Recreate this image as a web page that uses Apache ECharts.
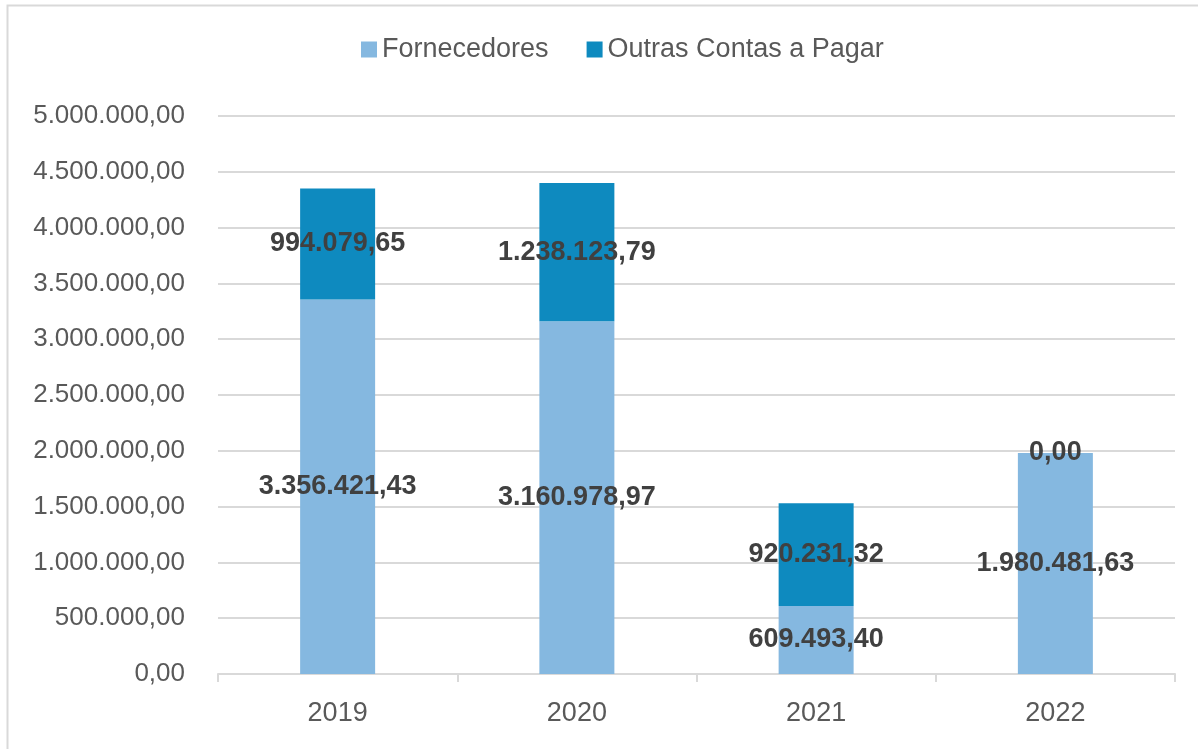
<!DOCTYPE html>
<html><head><meta charset="utf-8">
<script src="https://cdn.jsdelivr.net/npm/echarts@6/dist/echarts.min.js"></script>
<style>html,body{margin:0;padding:0;background:#fff}#c{width:1198px;height:749px}</style>
</head><body><div id="c"></div>
<script>
const categories = ['2019', '2020', '2021', '2022'];
const fornecedores = [3356421.43, 3160978.97, 609493.40, 1980481.63];
const outrasContas = [994079.65, 1238123.79, 920231.32, 0];
const seriesNames = ['Fornecedores', 'Outras Contas a Pagar'];

function fmt(v) {
  const parts = v.toFixed(2).split('.');
  parts[0] = parts[0].replace(/\B(?=(\d{3})+(?!\d))/g, '.');
  return parts[0] + ',' + parts[1];
}

const chart = echarts.init(document.getElementById('c'), null, {renderer: 'canvas'});
const labelStyle = {
  show: true, position: 'inside', color: '#404040', fontWeight: 'bold',
  fontSize: 27, fontFamily: 'Liberation Sans, Arial, sans-serif',
  formatter: p => fmt(p.value)
};
chart.setOption({
  animation: false,
  backgroundColor: '#fff',
  graphic: [{
    type: 'rect', shape: {x: 7.5, y: 5.5, width: 1300, height: 900},
    style: {fill: 'none', stroke: '#d9d9d9', lineWidth: 2}, silent: true
  }],
  legend: {
    top: 31, left: 356, itemWidth: 16, itemHeight: 16, itemGap: 38,
    icon: 'rect',
    textStyle: {fontSize: 27, color: '#595959', fontFamily: 'Liberation Sans, Arial, sans-serif'},
    data: seriesNames
  },
  grid: {left: 218, right: 23, top: 116, bottom: 75, containLabel: false},
  xAxis: {
    type: 'category', data: categories,
    axisLine: {lineStyle: {color: '#d9d9d9', width: 2}},
    axisTick: {show: true, length: 8, lineStyle: {color: '#d9d9d9', width: 2}},
    axisLabel: {fontSize: 27, color: '#595959', margin: 26, fontFamily: 'Liberation Sans, Arial, sans-serif'}
  },
  yAxis: {
    type: 'value', min: 0, max: 5000000, interval: 500000,
    axisLine: {show: false}, axisTick: {show: false},
    splitLine: {lineStyle: {color: '#d9d9d9', width: 2}},
    axisLabel: {fontSize: 26, color: '#595959', margin: 33, fontFamily: 'Liberation Sans, Arial, sans-serif',
      formatter: v => fmt(v)}
  },
  series: [
    {name: seriesNames[0], type: 'bar', stack: 's', data: fornecedores, barWidth: 75,
     itemStyle: {color: '#85B8E0'}, label: labelStyle},
    {name: seriesNames[1], type: 'bar', stack: 's', data: outrasContas, barWidth: 75,
     itemStyle: {color: '#0E8ABF'}, label: labelStyle}
  ]
});
</script></body></html>
